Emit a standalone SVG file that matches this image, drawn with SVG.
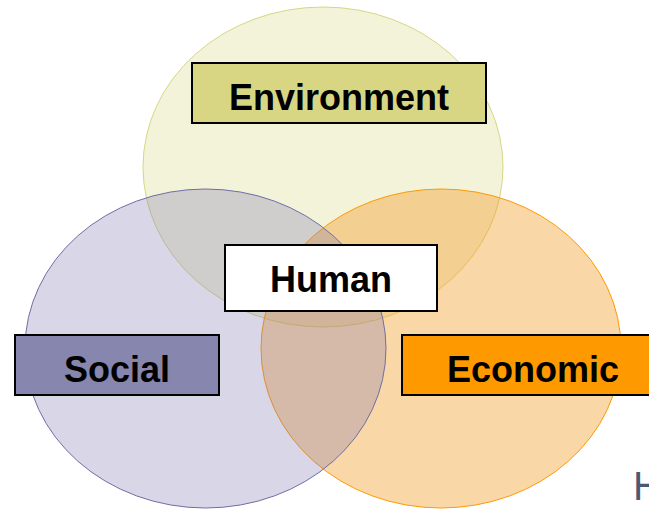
<svg xmlns="http://www.w3.org/2000/svg" width="649" height="509" viewBox="0 0 649 509">
<style>
.lbl{font-family:"Liberation Sans",Arial,sans-serif;font-weight:bold;font-size:36px;fill:#000;text-anchor:middle}
.box{stroke:#000;stroke-width:2}
</style>
<rect width="649" height="509" fill="#fff"/>
<g id="circles">
<ellipse id="env-circle" cx="323" cy="167" rx="180" ry="160" fill="#D8D683" fill-opacity="0.3" stroke="#D8D683" stroke-width="1"/>
<ellipse id="econ-circle" cx="441" cy="348.5" rx="180" ry="159.5" fill="#F29A24" fill-opacity="0.4" stroke="#FF9900" stroke-width="1"/>
<ellipse id="social-circle" cx="205.5" cy="348.5" rx="180.5" ry="159.5" fill="#8078B0" fill-opacity="0.3" stroke="#6E6EA6" stroke-width="1"/>
</g>
<g id="connectors"></g>
<g id="environment">
<rect class="box" x="192" y="63" width="294" height="60" fill="#D8D683"/>
<text class="lbl" x="339" y="110">Environment</text>
</g>
<g id="social">
<rect class="box" x="15" y="335" width="204" height="60" fill="#8686AE"/>
<text class="lbl" x="117" y="382">Social</text>
</g>
<g id="economic">
<rect class="box" x="402" y="335" width="260" height="60" fill="#FF9900"/>
<text class="lbl" x="533" y="382">Economic</text>
</g>
<g id="human">
<rect class="box" x="225" y="245" width="212" height="66" fill="#fff"/>
<text class="lbl" x="331" y="292">Human</text>
</g>
<text x="633" y="500" font-family="Liberation Sans,Arial,sans-serif" font-size="40" fill="#4A5A75">H</text>
</svg>
